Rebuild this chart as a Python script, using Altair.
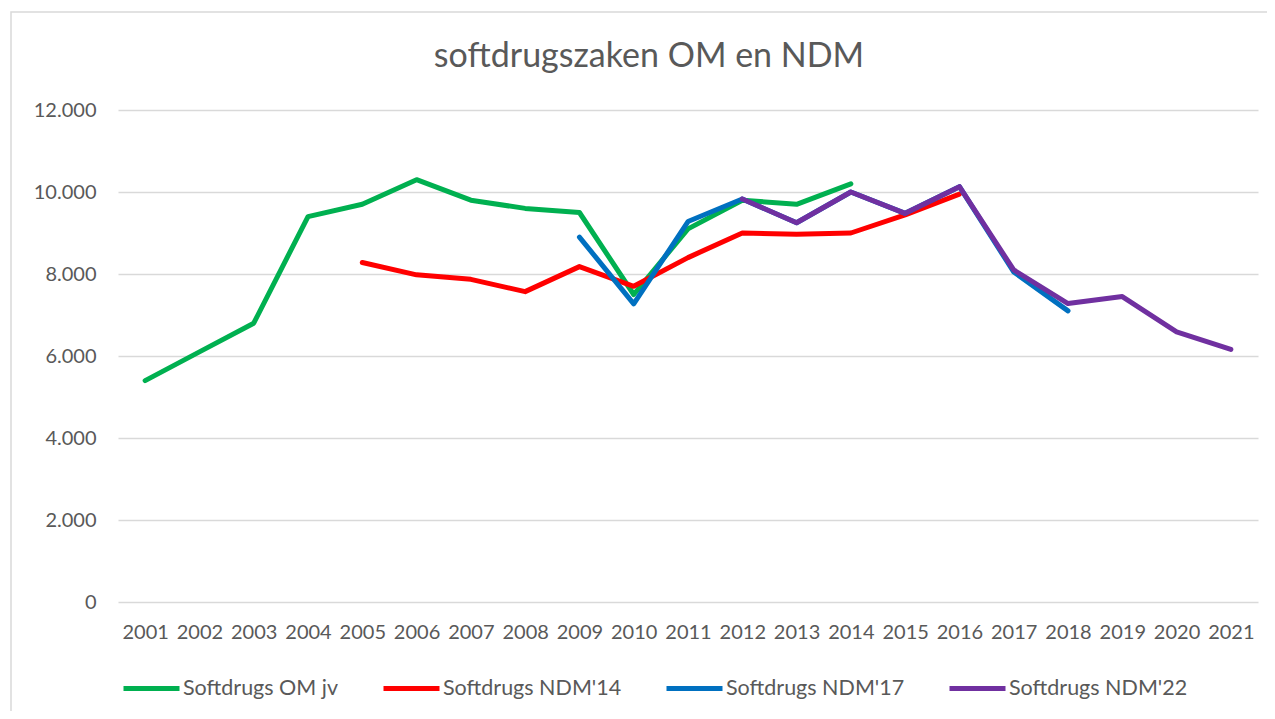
import altair as alt
import pandas as pd

years = [str(y) for y in range(2001, 2022)]

om_jv = [5400, 6100, 6800, 9400, 9700, 10300, 9800, 9600, 9500, 7500, 9100, 9800, 9700, 10200,
         None, None, None, None, None, None, None]
ndm14 = [None, None, None, None, 8280, 7980, 7870, 7570, 8180, 7700, 8400, 9000, 8970, 9000,
         9440, 9950, None, None, None, None, None]
ndm17 = [None, None, None, None, None, None, None, None, 8900, 7270, 9280, 9830, 9250, 10000,
         9480, 10130, 8050, 7100, None, None, None]
ndm22 = [None, None, None, None, None, None, None, None, None, None, None, 9830, 9250, 10000,
         9480, 10130, 8100, 7280, 7450, 6590, 6160]

series_names = ["Softdrugs OM jv", "Softdrugs NDM'14", "Softdrugs NDM'17", "Softdrugs NDM'22"]
series_values = [om_jv, ndm14, ndm17, ndm22]
series_colors = ["#00B050", "#FF0000", "#0070C0", "#7030A0"]
title_text = "softdrugszaken OM en NDM"

rows = []
for name, vals in zip(series_names, series_values):
    for yr, v in zip(years, vals):
        if v is not None:
            rows.append({"jaar": yr, "waarde": v, "reeks": name})
df = pd.DataFrame(rows)

FONT = "Lato"
TXT = "#595959"

x_enc = alt.X("jaar:O", scale=alt.Scale(domain=years, padding=0.5),
              axis=alt.Axis(title=None, labelAngle=0, labelFontSize=20, labelColor=TXT,
                            labelFont=FONT, ticks=False, domain=False, grid=False,
                            labelPadding=20))
y_enc = alt.Y("waarde:Q", scale=alt.Scale(domain=[0, 12000], nice=False),
              axis=alt.Axis(title=None, values=[0, 2000, 4000, 6000, 8000, 10000, 12000],
                            labelExpr="replace(format(datum.value, ','), ',', '.')",
                            labelFontSize=20, labelColor=TXT, labelFont=FONT,
                            ticks=False, domain=False, gridColor="#D9D9D9", gridWidth=1.5,
                            labelPadding=22))
color_enc = alt.Color("reeks:N",
                      scale=alt.Scale(domain=series_names, range=series_colors),
                      legend=alt.Legend(title=None, orient="none", direction="horizontal",
                                        legendX=3, legendY=548, symbolType="stroke",
                                        symbolSize=3136, symbolStrokeWidth=5,
                                        labelFontSize=21.5, labelColor=TXT, labelFont=FONT,
                                        labelOffset=1, columnPadding=34, padding=0,
                                        labelLimit=300))

layers = []
# border of chart area (left and top edges visible)
border = alt.Chart(pd.DataFrame({"a": [0]})).mark_rect(
    fill=None, stroke="#D9D9D9", strokeWidth=1.5, clip=False
).encode(x=alt.value(-107), x2=alt.value(1160), y=alt.value(-98), y2=alt.value(620))
layers.append(border)

title = alt.Chart(pd.DataFrame({"t": [title_text]})).mark_text(
    font=FONT, fontSize=34, color=TXT, align="center", baseline="middle", clip=False
).encode(text="t:N", x=alt.value(531), y=alt.value(-53))
layers.append(title)

for name in series_names:
    layers.append(
        alt.Chart(df).transform_filter(alt.datum.reeks == name).mark_line(
            strokeWidth=5, strokeCap="round", strokeJoin="round"
        ).encode(x=x_enc, y=y_enc, color=color_enc)
    )

chart = alt.layer(*layers).properties(
    width=1140, height=492,
    autosize=alt.AutoSizeParams(type="none"),
    padding={"left": 110, "top": 102, "right": 9, "bottom": 109},
).configure_view(stroke=None)

chart.save("out.html", embed_options={"renderer": "svg", "actions": False})
